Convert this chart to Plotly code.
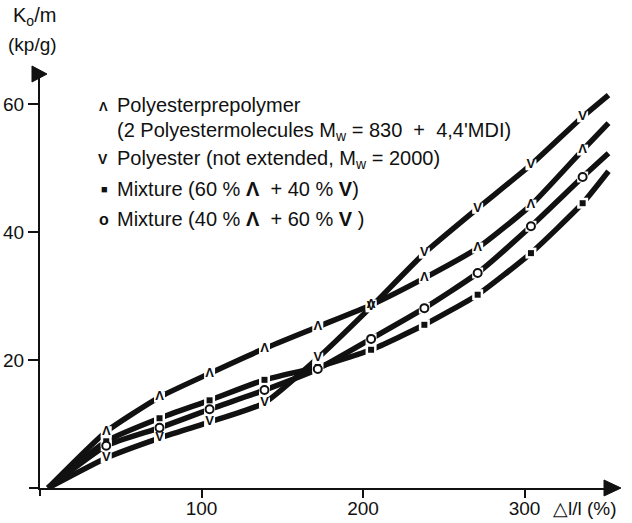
import plotly.graph_objects as go

# ---- data ----
elongation = [5, 41, 74, 105, 139, 172, 205, 238, 271, 304, 336, 352]
prepolymer = [0, 8.8, 14.2, 17.9, 21.8, 25.2, 28.6, 32.8, 37.5, 44.2, 52.8, 57.0]
polyester = [0, 4.7, 7.8, 10.3, 13.3, 20.3, 28.3, 36.7, 43.7, 50.5, 58.0, 61.4]
mix_60_40 = [0, 7.3, 10.9, 13.7, 16.9, 18.9, 21.6, 25.5, 30.2, 36.7, 44.5, 49.5]
mix_40_60 = [0, 6.6, 9.4, 12.3, 15.3, 18.6, 23.3, 28.1, 33.6, 40.9, 48.6, 52.3]
x_ticks = [100, 200, 300]
y_ticks = [20, 40, 60]

W, H = 632, 523
L, R, T, B = 40, 14, 75, 35
FONT = "Liberation Sans, Arial, Helvetica, sans-serif"
INK = "#111111"


def px(xp):
    return (xp - L) / (W - L - R)


def py(yp):
    return (H - B - yp) / (H - T - B)


fig = go.Figure()

series = [
    (prepolymer, "Λ"),
    (polyester, "V"),
    (mix_60_40, "sq"),
    (mix_40_60, "o"),
]

# thick curves
for ys, _ in series:
    fig.add_trace(go.Scatter(
        x=elongation, y=ys, mode="lines",
        line=dict(color=INK, width=5.5, shape="spline", smoothing=0.5),
        hoverinfo="skip", showlegend=False))

mx = elongation[1:-1]
# white gaps at the measuring points
for ys, kind in series:
    fig.add_trace(go.Scatter(
        x=mx, y=ys[1:-1], mode="markers",
        marker=dict(symbol="square", size=11, color="white", line=dict(width=0)),
        hoverinfo="skip", showlegend=False))

# point symbols
for ys, kind in series:
    if kind in ("Λ", "V"):
        fig.add_trace(go.Scatter(
            x=mx, y=ys[1:-1], mode="text", text=["<b>%s</b>" % kind] * len(mx),
            textposition="middle center",
            textfont=dict(family=FONT, size=13, color=INK),
            hoverinfo="skip", showlegend=False))
    elif kind == "sq":
        fig.add_trace(go.Scatter(
            x=mx, y=ys[1:-1], mode="markers",
            marker=dict(symbol="square", size=6, color=INK),
            hoverinfo="skip", showlegend=False))
    else:
        fig.add_trace(go.Scatter(
            x=mx, y=ys[1:-1], mode="markers",
            marker=dict(symbol="circle", size=8, color="white",
                        line=dict(color=INK, width=2)),
            hoverinfo="skip", showlegend=False))

annotations = []


def txt(x, y, s, size=20, anchor="left"):
    annotations.append(dict(
        x=px(x), y=py(y), xref="paper", yref="paper", text=s, showarrow=False,
        xanchor=anchor, yanchor="middle",
        font=dict(family=FONT, size=size, color=INK)))


# legend block
txt(103, 106, "<b>Λ</b>", size=13, anchor="center")
txt(115, 105, "Polyesterprepolymer")
txt(115, 131, "(2 Polyestermolecules M<sub>w</sub> = 830  +  4,4'MDI)")
txt(103, 159, "<b>V</b>", size=14, anchor="center")
txt(115, 159, "Polyester (not extended, M<sub>w</sub> = 2000)")
txt(104, 189, "■", size=11, anchor="center")
txt(115, 189, "Mixture (60 % <b>Λ</b>  + 40 % <b>V</b>)")
txt(104, 219, "<b>o</b>", size=16, anchor="center")
txt(115, 219, "Mixture (40 % <b>Λ</b>  + 60 % <b>V</b> )")

# axis titles
txt(34, 16, "K<sub>o</sub>/m", size=20, anchor="center")
txt(32, 45, "(kp/g)", size=19, anchor="center")
txt(551, 508, "△l/l (%)", size=19, anchor="left")

shapes = [
    # small axis extensions
    dict(type="line", xref="paper", yref="paper", x0=px(29), x1=px(40), y0=py(488), y1=py(488),
         line=dict(color=INK, width=2)),
    dict(type="line", xref="paper", yref="paper", x0=px(40), x1=px(40), y0=py(488), y1=py(496),
         line=dict(color=INK, width=2)),
    # arrow heads
    dict(type="path", xref="paper", yref="paper",
         path="M %f %f L %f %f L %f %f Z" % (px(32), py(66), px(47), py(74), px(32), py(82)),
         fillcolor=INK, line=dict(color=INK, width=1)),
    dict(type="path", xref="paper", yref="paper",
         path="M %f %f L %f %f L %f %f Z" % (px(604), py(480), px(621), py(488), px(604), py(496)),
         fillcolor=INK, line=dict(color=INK, width=1)),
]

fig.update_layout(
    width=W, height=H,
    margin=dict(l=L, r=R, t=T, b=B, autoexpand=False),
    paper_bgcolor="white", plot_bgcolor="white",
    showlegend=False,
    annotations=annotations,
    shapes=shapes,
    xaxis=dict(range=[0, (W - L - R) / 1.615], tickvals=x_ticks,
               ticktext=[str(v) for v in x_ticks], automargin=False,
               showline=True, linecolor=INK, linewidth=2,
               ticks="outside", ticklen=8, tickwidth=2, tickcolor=INK,
               ticklabelstandoff=-6,
               showgrid=False, zeroline=False,
               tickfont=dict(family=FONT, size=19, color=INK)),
    yaxis=dict(range=[0, (H - T - B) / 6.4], tickvals=y_ticks,
               ticktext=[str(v) for v in y_ticks], automargin=False,
               showline=True, linecolor=INK, linewidth=2,
               ticks="outside", ticklen=10, tickwidth=2, tickcolor=INK,
               showgrid=False, zeroline=False,
               tickfont=dict(family=FONT, size=19, color=INK)),
)

fig.write_html("out.html")
